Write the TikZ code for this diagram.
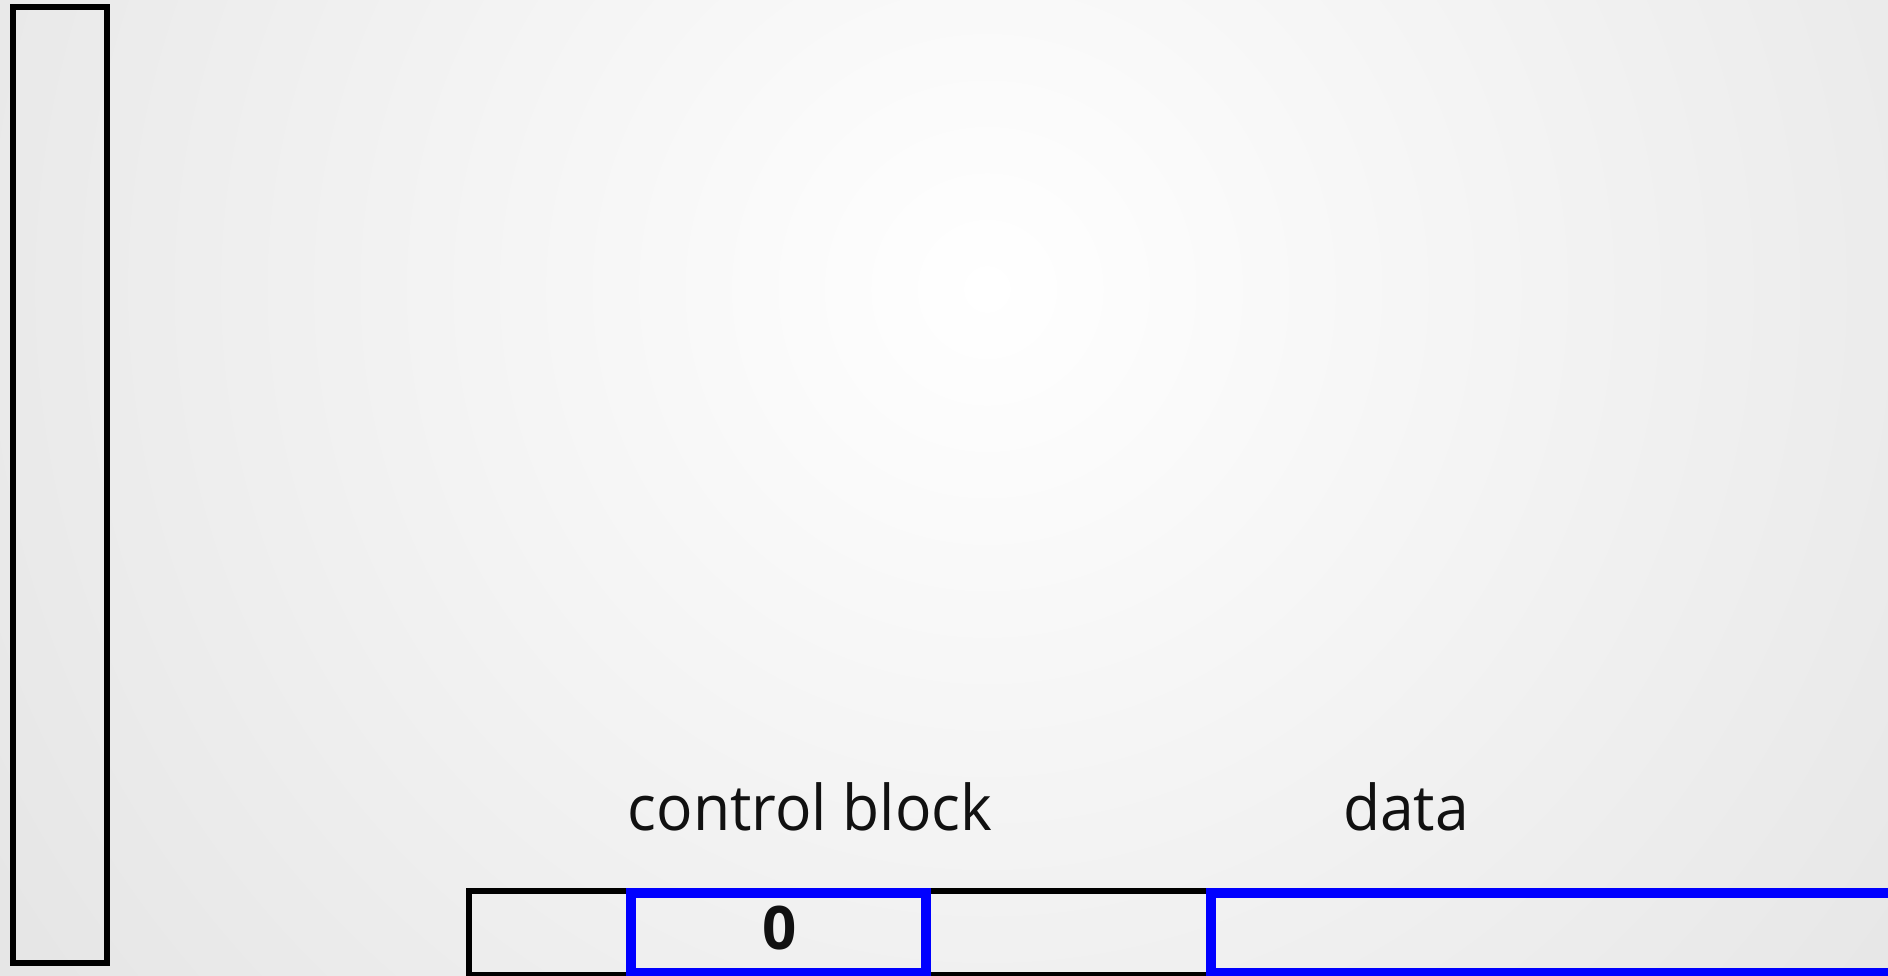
\documentclass[tikz,border=0pt]{standalone}
\usepackage{fontspec}
\setmainfont{Open Sans}
\newfontfamily\labelfont[FakeStretch=0.96]{Open Sans}
\definecolor{edgegrey}{RGB}{229,229,229}
\definecolor{midgrey}{RGB}{230,230,230}
\definecolor{cellblueline}{RGB}{0,0,255}
\definecolor{inktext}{RGB}{17,17,17}
% soft backdrop: white centre fading out to light grey (radii in bp, 1px = 0.2835bp)
\pgfdeclareradialshading{backdrop}{\pgfpointorigin}{%
  color(0bp)=(white); color(329bp)=(midgrey); color(420bp)=(edgegrey)}
\begin{document}
\begin{tikzpicture}[x=0.01cm,y=-0.01cm,
  labeltext/.style={font=\labelfont\fontsize{17.93}{21}\selectfont, text=inktext, inner sep=0pt, anchor=base},
  cellblack/.style={draw=black, line width=0.06cm, inner sep=0pt, outer sep=0pt},
  cellblue/.style={draw=cellblueline, line width=0.10cm, inner sep=0pt, outer sep=0pt}]
  % canvas and backdrop
  \useasboundingbox (0,0) rectangle (1888,975);
  \clip (0,0) rectangle (1888,975);
  \fill[edgegrey] (0,0) rectangle (1888,975);
  \node[inner sep=0pt, outer sep=0pt] (backdrop) at (987,289) {\pgfuseshading{backdrop}};

  % tall stack on the left
  \node[cellblack, minimum width=0.94cm, minimum height=9.56cm] (stack) at (60,485) {};

  % memory row: outer frame, control block and data cells
  \node[cellblack, minimum width=20cm, minimum height=0.84cm, anchor=north west] (row) at (469,891) {};
  \node[cellblue, minimum width=2.95cm, minimum height=0.80cm] (ctrl) at (778.5,933) {};
  \node[cellblue, minimum width=8cm, minimum height=0.80cm, anchor=north west] (data) at (1211,893) {};

  % texts
  \node[labeltext, font=\fontsize{17.07}{20}\selectfont\bfseries] (zero) at (780,949.5) {0};
  \node[labeltext] (ctrllabel) at (810,830) {control block};
  \node[labeltext] (datalabel) at (1406,830) {data};
\end{tikzpicture}
\end{document}
